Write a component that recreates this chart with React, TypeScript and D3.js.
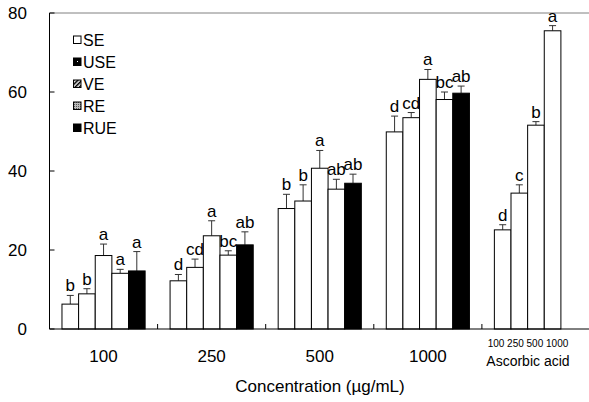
import { useRef, useEffect } from "react";
import * as d3 from "d3";

// concentration groups (µg/mL); last group holds the ascorbic acid standard
const categories = ["100", "250", "500", "1000", "Ascorbic acid"];
const seriesNames = ["SE", "USE", "VE", "RE", "RUE"];

const seMean = [6.3, 12.2, 30.5, 49.9];
const seErr = [2.2, 1.6, 3.6, 4.0];
const seLetters = ["b", "d", "b", "d"];

const useMean = [8.9, 15.6, 32.4, 53.5];
const useErr = [1.3, 2.1, 4.1, 1.3];
const useLetters = ["b", "cd", "b", "cd"];

const veMean = [18.6, 23.6, 40.7, 63.2];
const veErr = [2.9, 3.8, 4.5, 2.5];
const veLetters = ["a", "a", "a", "a"];

const reMean = [14.1, 18.7, 35.4, 58.1];
const reErr = [1.0, 1.1, 2.5, 1.9];
const reLetters = ["a", "bc", "ab", "bc"];

const rueMean = [14.7, 21.3, 36.9, 59.7];
const rueErr = [4.9, 3.3, 2.3, 1.8];
const rueLetters = ["a", "ab", "ab", "ab"];

const ascDoses = ["100", "250", "500", "1000"];
const ascMean = [25.1, 34.4, 51.6, 75.5];
const ascErr = [1.3, 2.1, 0.9, 1.3];
const ascLetters = ["d", "c", "b", "a"];

const yTicks = [0, 20, 40, 60, 80];

const FONT = "'Liberation Sans', Arial, sans-serif";

export default function App() {
  const svgRef = useRef<SVGSVGElement>(null);

  useEffect(() => {
    const width = 589;
    const left = 49.5;
    const right = 590;
    const top = 13;
    const bottom = 329;

    const svg = d3.select(svgRef.current);
    svg.selectAll("*").remove();

    const x = d3.scaleBand().domain(categories).range([left, right]).paddingInner(0).paddingOuter(0);
    const xSub = d3.scaleBand().domain(seriesNames).range([0, x.bandwidth()]).paddingInner(0).paddingOuter(0.75);
    const y = d3.scaleLinear().domain([0, 80]).range([bottom, top]);

    // patterns for legend swatches
    const defs = svg.append("defs");
    const pv = defs.append("pattern").attr("id", "pat-ve").attr("patternUnits", "userSpaceOnUse")
      .attr("width", 3).attr("height", 3).attr("patternTransform", "rotate(45)");
    pv.append("rect").attr("width", 3).attr("height", 3).attr("fill", "#fff");
    pv.append("rect").attr("width", 1.6).attr("height", 3).attr("fill", "#000");
    const pr = defs.append("pattern").attr("id", "pat-re").attr("patternUnits", "userSpaceOnUse")
      .attr("width", 2).attr("height", 2);
    pr.append("rect").attr("width", 2).attr("height", 2).attr("fill", "#bbb");
    pr.append("rect").attr("width", 1).attr("height", 1).attr("fill", "#555");
    const pu = defs.append("pattern").attr("id", "pat-use").attr("patternUnits", "userSpaceOnUse")
      .attr("width", 8).attr("height", 8);
    pu.append("rect").attr("width", 8).attr("height", 8).attr("fill", "#000");
    pu.append("rect").attr("x", 5).attr("y", 5).attr("width", 1).attr("height", 1).attr("fill", "#fff");

    const groups = [
      { name: "SE", mean: seMean, err: seErr, letters: seLetters, fill: "#fff" },
      { name: "USE", mean: useMean, err: useErr, letters: useLetters, fill: "#fff" },
      { name: "VE", mean: veMean, err: veErr, letters: veLetters, fill: "#fff" },
      { name: "RE", mean: reMean, err: reErr, letters: reLetters, fill: "#fff" },
      { name: "RUE", mean: rueMean, err: rueErr, letters: rueLetters, fill: "#000" },
    ];

    type Bar = { cx: number; w: number; mean: number; err: number; letter: string; fill: string };
    const bars: Bar[] = [];
    groups.forEach((s) => {
      s.mean.forEach((m, i) => {
        bars.push({
          cx: (x(categories[i]) as number) + (xSub(s.name) as number) + xSub.bandwidth() / 2,
          w: xSub.bandwidth(),
          mean: m,
          err: s.err[i],
          letter: s.letters[i],
          fill: s.fill,
        });
      });
    });
    // ascorbic acid occupies the first four slots of its group
    ascMean.forEach((m, i) => {
      bars.push({
        cx: (x("Ascorbic acid") as number) + (xSub(seriesNames[i]) as number) + xSub.bandwidth() / 2,
        w: xSub.bandwidth(),
        mean: m,
        err: ascErr[i],
        letter: ascLetters[i],
        fill: "#fff",
      });
    });

    // top border line
    svg.append("line")
      .attr("x1", left).attr("x2", width).attr("y1", top).attr("y2", top)
      .attr("stroke", "#808080").attr("stroke-width", 1);

    // error bars
    const eb = svg.append("g").attr("stroke", "#333").attr("stroke-width", 1);
    bars.forEach((b) => {
      eb.append("line").attr("x1", b.cx).attr("x2", b.cx)
        .attr("y1", y(b.mean)).attr("y2", y(b.mean + b.err));
      eb.append("line").attr("x1", b.cx - 3.5).attr("x2", b.cx + 3.5)
        .attr("y1", y(b.mean + b.err)).attr("y2", y(b.mean + b.err));
    });

    // bars
    svg.append("g").selectAll("rect").data(bars).join("rect")
      .attr("x", (d) => d.cx - d.w / 2)
      .attr("y", (d) => y(d.mean))
      .attr("width", (d) => d.w)
      .attr("height", (d) => y(0) - y(d.mean))
      .attr("fill", (d) => d.fill)
      .attr("stroke", "#000")
      .attr("stroke-width", 1);

    // significance letters
    svg.append("g").selectAll("text").data(bars).join("text")
      .attr("x", (d) => d.cx)
      .attr("y", (d) => y(d.mean + d.err) - 4)
      .attr("text-anchor", "middle")
      .attr("font-family", FONT)
      .attr("font-size", 17)
      .attr("fill", "#000")
      .text((d) => d.letter);

    // axes
    svg.append("line").attr("x1", left).attr("x2", left).attr("y1", top).attr("y2", bottom)
      .attr("stroke", "#000");
    svg.append("line").attr("x1", left).attr("x2", width).attr("y1", bottom).attr("y2", bottom)
      .attr("stroke", "#000");

    svg.append("g").selectAll("line").data(yTicks).join("line")
      .attr("x1", left).attr("x2", left + 5)
      .attr("y1", (d) => y(d)).attr("y2", (d) => y(d))
      .attr("stroke", "#000");
    svg.append("g").selectAll("text").data(yTicks).join("text")
      .attr("x", 27)
      .attr("y", (d) => y(d) + 6)
      .attr("text-anchor", "end")
      .attr("font-family", FONT)
      .attr("font-size", 17)
      .text((d) => d);

    // category separators
    svg.append("g").selectAll("line").data(categories.slice(1)).join("line")
      .attr("x1", (d) => x(d) as number).attr("x2", (d) => x(d) as number)
      .attr("y1", bottom).attr("y2", bottom - 5)
      .attr("stroke", "#000");

    svg.append("g").selectAll("text").data(categories.slice(0, 4)).join("text")
      .attr("x", (d) => (x(d) as number) + x.bandwidth() / 2)
      .attr("y", 362)
      .attr("text-anchor", "middle")
      .attr("font-family", FONT)
      .attr("font-size", 17)
      .text((d) => d);

    // ascorbic acid dose labels
    const ascCenter = (x("Ascorbic acid") as number) + x.bandwidth() / 2 - 8;
    svg.append("text")
      .attr("x", ascCenter)
      .attr("y", 346.5)
      .attr("text-anchor", "middle")
      .attr("font-family", FONT)
      .attr("font-size", 10)
      .text(ascDoses.join(" "));
    svg.append("text")
      .attr("x", ascCenter)
      .attr("y", 366)
      .attr("text-anchor", "middle")
      .attr("font-family", FONT)
      .attr("font-size", 14)
      .text("Ascorbic acid");

    svg.append("text")
      .attr("x", 320)
      .attr("y", 392)
      .attr("text-anchor", "middle")
      .attr("font-family", FONT)
      .attr("font-size", 17)
      .text("Concentration (µg/mL)");

    // legend
    const legendFills = ["#fff", "url(#pat-use)", "url(#pat-ve)", "url(#pat-re)", "#000"];
    const lg = svg.append("g");
    seriesNames.forEach((n, i) => {
      const cy = 40 + i * 22;
      lg.append("rect").attr("x", 73.5).attr("y", cy - 4).attr("width", 7.5).attr("height", 7.5)
        .attr("fill", legendFills[i]).attr("stroke", "#000").attr("stroke-width", 1);
      lg.append("text").attr("x", 83).attr("y", cy + 6)
        .attr("font-family", FONT).attr("font-size", 16).text(n);
    });
  }, []);

  return (
    <div style={{ position: "fixed", left: 0, top: 0 }}>
      <svg ref={svgRef} width={589} height={402} style={{ display: "block", background: "#fff" }} />
    </div>
  );
}
